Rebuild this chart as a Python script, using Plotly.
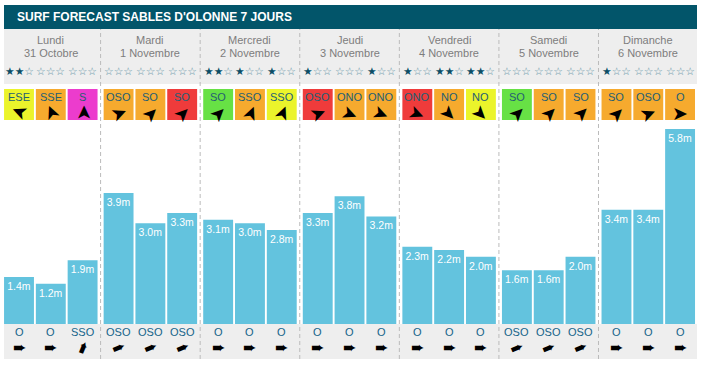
import plotly.graph_objects as go

# ---------------- data ----------------
days = ["Lundi", "Mardi", "Mercredi", "Jeudi", "Vendredi", "Samedi", "Dimanche"]
dates = ["31 Octobre", "1 Novembre", "2 Novembre", "3 Novembre",
         "4 Novembre", "5 Novembre", "6 Novembre"]
wave_heights = [1.4, 1.2, 1.9, 3.9, 3.0, 3.3, 3.1, 3.0, 2.8, 3.3, 3.8, 3.2,
                2.3, 2.2, 2.0, 1.6, 1.6, 2.0, 3.4, 3.4, 5.8]
stars = [2, 0, 0, 0, 0, 0, 2, 1, 1, 1, 0, 1, 1, 2, 2, 0, 0, 0, 1, 0, 0]
wind_dir = ["ESE", "SSE", "S", "OSO", "SO", "SO", "SO", "SSO", "SSO",
            "OSO", "ONO", "ONO", "ONO", "NO", "NO", "SO", "SO", "SO",
            "SO", "OSO", "O"]
wind_level = ["jaune", "orange", "magenta", "orange", "orange", "rouge",
              "vert", "orange", "jaune", "rouge", "orange", "orange",
              "rouge", "orange", "jaune", "vert", "orange", "orange",
              "orange", "orange", "orange"]
swell_dir = ["O", "O", "SSO", "OSO", "OSO", "OSO", "O", "O", "O",
             "O", "O", "O", "O", "O", "O", "OSO", "OSO", "OSO",
             "O", "O", "O"]

# ---------------- styles ----------------
LEVEL_COLORS = {"jaune": "#ebf42b", "orange": "#f6aa2e", "magenta": "#ec3ccd",
                "rouge": "#ef3b3b", "vert": "#67e145"}
COMPASS = {"N": 0, "NNE": 22.5, "NE": 45, "ENE": 67.5, "E": 90, "ESE": 112.5,
           "SE": 135, "SSE": 157.5, "S": 180, "SSO": 202.5, "SO": 225,
           "OSO": 247.5, "O": 270, "ONO": 292.5, "NO": 315, "NNO": 337.5}
BAR_COLOR = "#63c3de"
GRAY_BG = "#eeeeee"
TITLE_BG = "#02556a"
FONT = "Liberation Sans, Arial, sans-serif"
W, H = 701, 366
SLOT_PX = 31.8
FIRST_PX = 19.0
DAY_PITCH = 99.58 / SLOT_PX
BAR_W = 0.94


def py(px):
    """pixel (from top) -> paper y"""
    return 1 - px / H


def pxp(px):
    """pixel (from left) -> paper x"""
    return px / W


def xpos(i, j):
    return i * DAY_PITCH + j


xs = [xpos(k // 3, k % 3) for k in range(len(wave_heights))]
x_min = -FIRST_PX / SLOT_PX
x_max = x_min + W / SLOT_PX
base_px = 324
y_max = base_px / 33.6

fig = go.Figure()
fig.add_trace(go.Bar(
    x=xs, y=wave_heights, width=BAR_W, marker_color=BAR_COLOR,
    marker_line_width=0,
    text=[f"{v:.1f}m" for v in wave_heights], textposition="inside",
    insidetextanchor="end", textangle=0, constraintext="none",
    textfont=dict(family=FONT, size=10.5, color="white"),
    hoverinfo="skip"))

shapes = []
ann = []


def label(x, y, text, font, xref="x", **kw):
    d = dict(xref=xref, yref="paper", x=x, y=y, text=text, showarrow=False,
             xanchor="center", yanchor="middle", font=font)
    d.update(kw)
    ann.append(d)


# title bar
shapes.append(dict(type="rect", xref="paper", yref="paper", x0=pxp(4), x1=pxp(697),
                   y0=py(29), y1=py(5), fillcolor=TITLE_BG, line_width=0, layer="below"))
label(pxp(15), py(17), "<b>SURF FORECAST SABLES D'OLONNE 7 JOURS</b>",
      dict(family=FONT, size=12, color="white"), xref="paper", xanchor="left")
# header gray + bottom gray
shapes.append(dict(type="rect", xref="paper", yref="paper", x0=pxp(4), x1=pxp(697),
                   y0=py(84), y1=py(29), fillcolor=GRAY_BG, line_width=0, layer="below"))
shapes.append(dict(type="rect", xref="paper", yref="paper", x0=pxp(4), x1=pxp(697),
                   y0=py(359), y1=py(324), fillcolor=GRAY_BG, line_width=0, layer="below"))
# dashed separators
for i in range(len(days) - 1):
    xb = xpos(i, 1) + DAY_PITCH / 2
    shapes.append(dict(type="line", xref="x", yref="paper", x0=xb, x1=xb,
                       y0=py(359), y1=py(29),
                       line=dict(color="#bbbbbb", width=1, dash="4px,3px"), layer="below"))
# day headers
for i, (d, dt) in enumerate(zip(days, dates)):
    xc = xpos(i, 1)
    label(xc, py(40), d, dict(family=FONT, size=11, color="#7d7d7d"))
    label(xc, py(52.5), dt, dict(family=FONT, size=11, color="#7d7d7d"))
# stars, wind boxes, swell
for k, x in enumerate(xs):
    n = stars[k]
    s = ('<span style="color:#0c4e66">' + "★" * n + "</span>" if n else "") + \
        ('<span style="color:#5a8fa3">' + "☆" * (3 - n) + "</span>" if n < 3 else "")
    label(x, py(71), s, dict(family="DejaVu Sans", size=10.8))
    shapes.append(dict(type="rect", xref="x", yref="paper", x0=x - BAR_W / 2,
                       x1=x + BAR_W / 2, y0=py(120), y1=py(89),
                       fillcolor=LEVEL_COLORS[wind_level[k]], line_width=0, layer="below"))
    label(x, py(97), wind_dir[k], dict(family=FONT, size=11, color="#245e73"))
    pt = (COMPASS[wind_dir[k]] + 180) % 360
    label(x, py(113), "➤", dict(family="DejaVu Sans", size=19, color="black"),
          textangle=pt - 90)
    label(x, py(331.5), swell_dir[k], dict(family=FONT, size=11, color="#15648a"))
    ps = (COMPASS[swell_dir[k]] + 180) % 360
    label(x, py(347.5), "➨", dict(family="DejaVu Sans", size=16, color="black"),
          textangle=ps - 90)

fig.update_layout(
    width=W, height=H, margin=dict(l=0, r=0, t=0, b=0),
    paper_bgcolor="white", plot_bgcolor="rgba(0,0,0,0)",
    showlegend=False, shapes=shapes, annotations=ann,
    xaxis=dict(visible=False, range=[x_min, x_max], fixedrange=True),
    yaxis=dict(visible=False, range=[0, y_max], domain=[py(base_px), 1], fixedrange=True),
)
fig.write_html("out.html", config={"displayModeBar": False},
               post_script="document.body.style.margin='0';document.body.style.overflow='hidden';")
